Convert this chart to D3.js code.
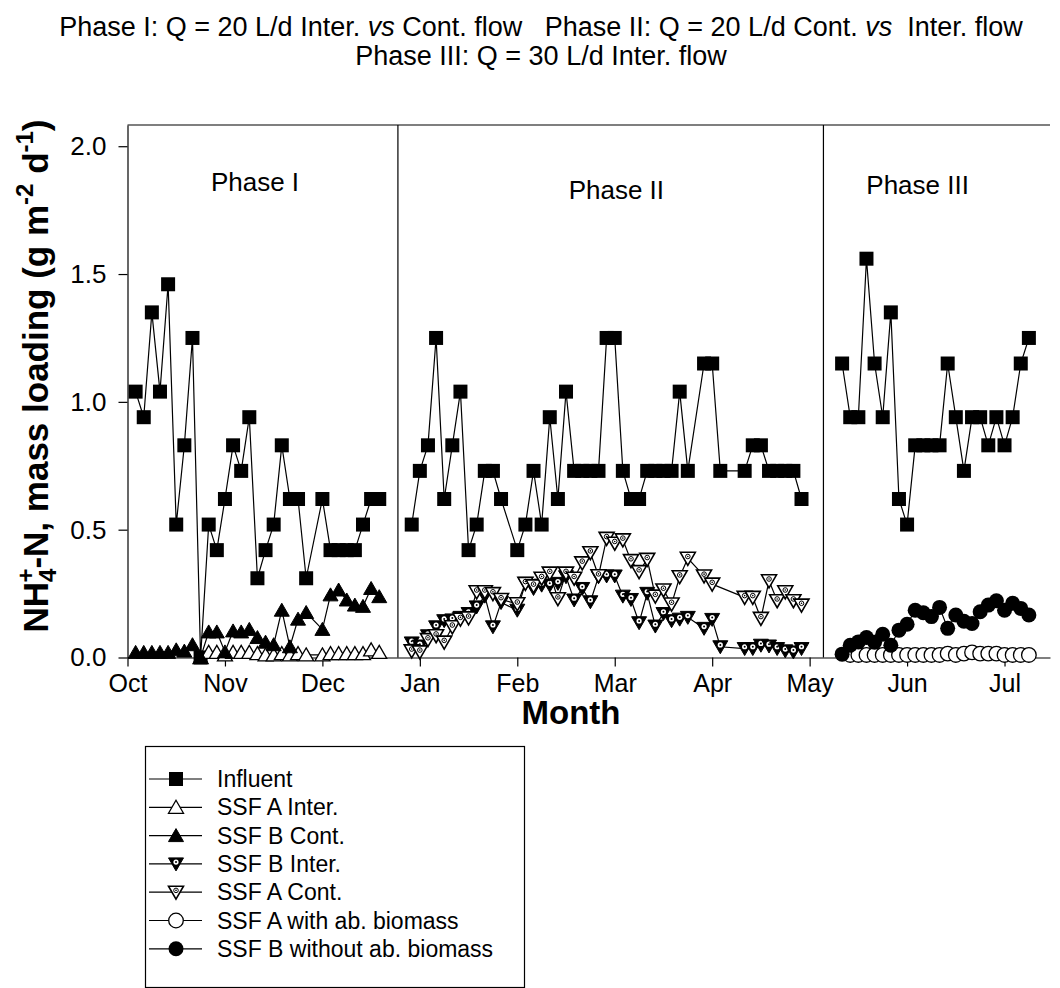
<!DOCTYPE html>
<html>
<head>
<meta charset="utf-8">
<script src="https://cdn.jsdelivr.net/npm/d3@7"></script>
<style>
  html, body { margin: 0; padding: 0; background: #fff; }
  svg { display: block; font-family: "Liberation Sans", Arial, sans-serif; }
</style>
</head>
<body>
<svg id="chart" width="1060" height="988"></svg>
<script>
// ---------- DATA ----------
// x positions are sample numbers (12 samples per month, 0 = 1 Oct)
const monthLabels = ["Oct","Nov","Dec","Jan","Feb","Mar","Apr","May","Jun","Jul"];
const monthTicks  = [0,12,24,36,48,60,72,84,96,108];
const yTicks      = [0,0.5,1.0,1.5,2.0];
const phaseBounds = [33.3, 85.7];
const phaseNames  = ["Phase I","Phase II","Phase III"];
const phaseLabelX = [15.7, 60.2, 97.3];
const phaseLabelY = [1.86, 1.83, 1.85];

// Phase I
const sampP1  = [1,2,3,4,5,6,7,8,9,10,11,12,13,14,15,16,17,18,19,20,21,22,24,25,26,27,28,29,30,31];
const influentP1 = [1.04,0.94,1.35,1.04,1.46,0.52,0.83,1.25,0.0,0.52,0.42,0.62,0.83,0.73,0.94,0.31,0.42,0.52,0.83,0.62,0.62,0.31,0.62,0.42,0.42,0.42,0.42,0.52,0.62,0.62];
const ssfBContP1 = [0.02,0.02,0.02,0.02,0.02,0.03,0.025,0.05,0.0,0.10,0.10,0.022,0.104,0.10,0.11,0.078,0.06,0.05,0.185,0.042,0.15,0.176,0.11,0.245,0.264,0.225,0.205,0.20,0.27,0.238];
const sampP1A = [9,10,11,12,13,14,15,16,17,18,19,20,21,22,24,25,26,27,28,29,30,31];
const ssfAInterP1 = [0.0,0.02,0.02,0.01,0.02,0.02,0.02,0.015,0.01,0.01,0.015,0.01,0.015,0.01,0.01,0.015,0.015,0.015,0.015,0.015,0.03,0.02];

// Phase II
const sampP2 = [35,36,37,38,39,40,41,42,43,44,45,46,48,49,50,51,52,53,54,55,56,57,58,59,60,61,62,63,64,65,66,67,68,69,71,72,73,76,77,78,79,80,81,82,83];
const influentP2 = [0.52,0.73,0.83,1.25,0.62,0.83,1.04,0.42,0.52,0.73,0.73,0.62,0.42,0.52,0.73,0.52,0.94,0.62,1.04,0.73,0.73,0.73,0.73,1.25,1.25,0.73,0.62,0.62,0.73,0.73,0.73,0.73,1.04,0.73,1.15,1.15,0.73,0.73,0.83,0.83,0.73,0.73,0.73,0.73,0.62];
const ssfBInterP2 = [0.057,0.045,0.085,0.12,0.144,0.147,0.157,0.172,0.198,0.24,0.12,0.215,0.185,0.29,0.27,0.283,0.283,0.29,0.316,0.225,0.27,0.218,0.316,0.319,0.319,0.24,0.227,0.136,0.251,0.123,0.172,0.144,0.15,0.157,0.114,0.149,0.042,0.035,0.035,0.048,0.045,0.035,0.026,0.022,0.035];
const sampP2A = [35,36,37,38,39,40,41,42,43,44,45,46,48,49,50,51,52,53,54,55,56,57,58,59,60,61,62,63,64,65,66,67,68,69,71,72,76,77,78,79,80,81,82,83];
const ssfAContP2 = [0.026,0.022,0.07,0.085,0.06,0.12,0.15,0.155,0.257,0.257,0.25,0.227,0.21,0.29,0.28,0.31,0.33,0.23,0.33,0.31,0.37,0.41,0.32,0.466,0.447,0.46,0.379,0.336,0.384,0.24,0.264,0.209,0.316,0.388,0.319,0.287,0.235,0.235,0.153,0.30,0.222,0.257,0.222,0.205];

// Phase III
const sampP3 = [88,89,90,91,92,93,94,95,96,97,98,99,100,101,102,103,104,105,106,107,108,109,110,111];
const influentP3 = [1.15,0.94,0.94,1.56,1.15,0.94,1.35,0.62,0.52,0.83,0.83,0.83,0.83,1.15,0.94,0.73,0.94,0.94,0.83,0.94,0.83,0.94,1.15,1.25];
const ssfBWithoutP3 = [0.013,0.048,0.061,0.078,0.06,0.091,0.048,0.107,0.13,0.185,0.175,0.16,0.196,0.114,0.166,0.142,0.133,0.179,0.205,0.222,0.185,0.212,0.192,0.166];
const sampP3A = [89,90,91,92,93,94,95,96,97,98,99,100,101,102,103,104,105,106,107,108,109,110,111];
const ssfAWithP3 = [0.01,0.01,0.01,0.01,0.01,0.01,0.01,0.01,0.01,0.01,0.01,0.01,0.015,0.01,0.015,0.02,0.015,0.015,0.015,0.01,0.01,0.01,0.01];

const legendNames = ["Influent","SSF A Inter.","SSF B Cont.","SSF B Inter.","SSF A Cont.","SSF A with ab. biomass","SSF B without ab. biomass"];
const legendSymbols = ["square","triUpOpen","triUpFilled","triDownFilled","triDownOpen","circleOpen","circleFilled"];

// ---------- BUILD ----------
const zip = (xs, ys) => xs.map((x, i) => [x, ys[i]]);
const series = [
  { sym: "square",        segs: [zip(sampP1, influentP1), zip(sampP2, influentP2), zip(sampP3, influentP3)] },
  { sym: "triUpOpen",     segs: [zip(sampP1A, ssfAInterP1)] },
  { sym: "triUpFilled",   segs: [zip(sampP1, ssfBContP1)] },
  { sym: "triDownFilled", segs: [zip(sampP2, ssfBInterP2)] },
  { sym: "triDownOpen",   segs: [zip(sampP2A, ssfAContP2)] },
  { sym: "circleOpen",    segs: [zip(sampP3A, ssfAWithP3)] },
  { sym: "circleFilled",  segs: [zip(sampP3, ssfBWithoutP3)] }
];

const svg = d3.select("#chart");
const X = d3.scaleLinear().domain([0, 113.6]).range([127.5, 1050]);
const Y = d3.scaleLinear().domain([0, 2.083]).range([657.5, 125]);
const FONT = '"Liberation Sans", Arial, sans-serif';

const TRI_UP = "M0,-7L7.5,6L-7.5,6Z";
const TRI_DN = "M0,7L7.5,-6L-7.5,-6Z";
function drawSymbol(g, sym) {
  switch (sym) {
    case "square":
      g.append("rect").attr("x", -7).attr("y", -7).attr("width", 14).attr("height", 14).attr("fill", "#000");
      break;
    case "triUpOpen":
      g.append("path").attr("d", TRI_UP).attr("fill", "#fff").attr("stroke", "#000").attr("stroke-width", 1.3);
      break;
    case "triUpFilled":
      g.append("path").attr("d", TRI_UP).attr("fill", "#000").attr("stroke", "#000").attr("stroke-width", 1);
      break;
    case "triDownFilled":
      g.append("path").attr("d", TRI_DN).attr("fill", "#000").attr("stroke", "#000").attr("stroke-width", 1);
      g.append("circle").attr("cx", 0).attr("cy", -1.8).attr("r", 2.6).attr("fill", "#fff");
      g.append("circle").attr("cx", 0).attr("cy", -1.8).attr("r", 1).attr("fill", "#000");
      break;
    case "triDownOpen":
      g.append("path").attr("d", TRI_DN).attr("fill", "#fff").attr("stroke", "#000").attr("stroke-width", 1.6);
      g.append("circle").attr("cx", 0).attr("cy", -1.8).attr("r", 2.3).attr("fill", "none").attr("stroke", "#000").attr("stroke-width", 1);
      g.append("circle").attr("cx", 0).attr("cy", -1.8).attr("r", 0.8).attr("fill", "#000");
      break;
    case "circleOpen":
      g.append("circle").attr("r", 7.3).attr("fill", "#fff").attr("stroke", "#000").attr("stroke-width", 1.3);
      break;
    case "circleFilled":
      g.append("circle").attr("r", 7.5).attr("fill", "#000");
      break;
  }
}

// Title
const title = svg.append("g").attr("font-family", FONT).attr("font-size", 27).attr("fill", "#000");
const t1 = title.append("text").attr("x", 541).attr("y", 36).attr("text-anchor", "middle");
t1.append("tspan").text("Phase I: Q = 20 L/d Inter. ");
t1.append("tspan").attr("font-style", "italic").text("vs");
t1.append("tspan").text(" Cont. flow\u00a0\u00a0\u00a0Phase II: Q = 20 L/d Cont. ");
t1.append("tspan").attr("font-style", "italic").text("vs");
t1.append("tspan").text("\u00a0\u00a0Inter. flow");
title.append("text").attr("x", 541).attr("y", 65).attr("text-anchor", "middle").text("Phase III: Q = 30 L/d Inter. flow");

// Frame lines
const [x0, x1] = X.range();
svg.append("line").attr("x1", x0).attr("x2", x1).attr("y1", Y(2.083)).attr("y2", Y(2.083)).attr("stroke", "#000").attr("stroke-width", 1.2);
phaseBounds.forEach(b => {
  svg.append("line").attr("x1", X(b)).attr("x2", X(b)).attr("y1", Y(2.083)).attr("y2", Y(0)).attr("stroke", "#000").attr("stroke-width", 1.2);
});

// Axes
const xAxis = svg.append("g").attr("transform", `translate(0,${Y(0)})`)
  .call(d3.axisBottom(X).tickValues(monthTicks).tickFormat((d, i) => monthLabels[i]).tickSize(9).tickSizeOuter(0).tickPadding(8));
const yAxis = svg.append("g").attr("transform", `translate(${X(0)},0)`)
  .call(d3.axisLeft(Y).tickValues(yTicks).tickFormat(d3.format(".1f")).tickSize(9).tickSizeOuter(0).tickPadding(12));
[xAxis, yAxis].forEach(a => {
  a.selectAll("path.domain").attr("stroke", "#000").attr("stroke-width", 1.2);
  a.selectAll(".tick line").attr("stroke", "#000").attr("stroke-width", 1.2);
  a.selectAll(".tick text").attr("font-family", FONT).attr("font-size", 25).attr("fill", "#000");
});
yAxis.selectAll(".tick text").attr("font-size", 26);

// Phase labels
phaseNames.forEach((n, i) => {
  svg.append("text").attr("x", X(phaseLabelX[i])).attr("y", Y(phaseLabelY[i]) + 9)
    .attr("text-anchor", "middle").attr("font-family", FONT).attr("font-size", 26).text(n);
});

// Series
const line = d3.line().x(d => X(d[0])).y(d => Y(d[1]));
series.forEach(s => {
  const g = svg.append("g");
  s.segs.forEach(seg => {
    g.append("path").attr("d", line(seg)).attr("fill", "none").attr("stroke", "#000").attr("stroke-width", 1.2);
  });
  s.segs.forEach(seg => {
    seg.forEach(d => {
      const m = g.append("g").attr("transform", `translate(${X(d[0])},${Y(d[1])})`);
      drawSymbol(m, s.sym);
    });
  });
});

// Axis titles
const yt = svg.append("text").attr("transform", "translate(48,376) rotate(-90)")
  .attr("text-anchor", "middle").attr("font-family", FONT).attr("font-weight", "bold").attr("font-size", 35);
yt.append("tspan").text("NH");
yt.append("tspan").attr("font-size", 24).attr("dy", 8).text("4");
yt.append("tspan").attr("font-size", 24).attr("dx", -14).attr("dy", -22).text("+");
yt.append("tspan").attr("dy", 14).text("-N, mass loading (g m");
yt.append("tspan").attr("font-size", 24).attr("dy", -15).text("-2");
yt.append("tspan").attr("dy", 15).text(" d");
yt.append("tspan").attr("font-size", 24).attr("dy", -15).text("-1");
yt.append("tspan").attr("dy", 15).text(")");

svg.append("text").attr("x", 571).attr("y", 724).attr("text-anchor", "middle")
  .attr("font-family", FONT).attr("font-weight", "bold").attr("font-size", 33).text("Month");

// Legend
const lg = svg.append("g");
lg.append("rect").attr("x", 145.5).attr("y", 746.5).attr("width", 379).attr("height", 241)
  .attr("fill", "#fff").attr("stroke", "#000").attr("stroke-width", 1.2);
legendNames.forEach((n, i) => {
  const cy = 779 + i * 28.3;
  lg.append("line").attr("x1", 149).attr("x2", 202).attr("y1", cy).attr("y2", cy).attr("stroke", "#000").attr("stroke-width", 1.2);
  const m = lg.append("g").attr("transform", `translate(176,${cy})`);
  drawSymbol(m, legendSymbols[i]);
  lg.append("text").attr("x", 217).attr("y", cy + 8).attr("font-family", FONT).attr("font-size", 23).text(n);
});
</script>
</body>
</html>
